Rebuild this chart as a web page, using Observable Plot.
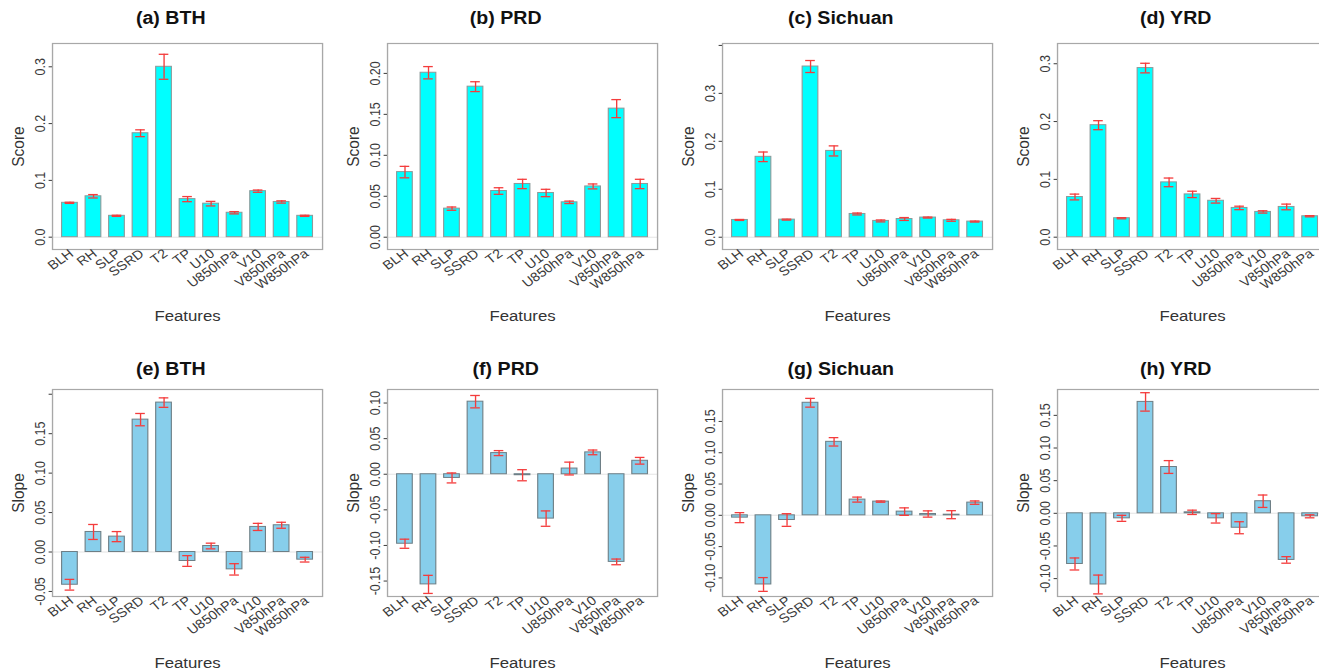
<!DOCTYPE html>
<html><head><meta charset="utf-8">
<script src="https://cdn.jsdelivr.net/npm/d3@7"></script>
<script src="https://cdn.jsdelivr.net/npm/@observablehq/plot@0.6"></script>
<style>
html,body{margin:0;padding:0;background:#fff;overflow:hidden;width:1319px;height:672px;}
#root{position:relative;width:1319px;height:672px;overflow:hidden;}
.panel{position:absolute;transform-origin:0 0;}
</style></head><body><div id="root"></div>
<script>
const features = ["BLH","RH","SLP","SSRD","T2","TP","U10","U850hPa","V10","V850hPa","W850hPa"];

const scoreBTH    = [0.0605,0.072,0.0376,0.183,0.300,0.067,0.059,0.043,0.081,0.062,0.0376];
const scoreBTHErr = [0.001,0.003,0.001,0.006,0.022,0.0045,0.004,0.002,0.002,0.002,0.001];
const scorePRD    = [0.0795,0.2008,0.0349,0.1838,0.0564,0.065,0.054,0.0426,0.062,0.157,0.065];
const scorePRDErr = [0.007,0.0075,0.002,0.006,0.004,0.0057,0.0045,0.0015,0.003,0.011,0.0057];
const scoreSC     = [0.036,0.1677,0.0367,0.356,0.180,0.0485,0.034,0.038,0.041,0.0353,0.0326];
const scoreSCErr  = [0.001,0.01,0.001,0.0125,0.0105,0.002,0.002,0.003,0.001,0.002,0.001];
const scoreYRD    = [0.0695,0.1937,0.0328,0.2925,0.0948,0.074,0.063,0.0506,0.0437,0.0523,0.0362];
const scoreYRDErr = [0.005,0.0078,0.001,0.0083,0.0075,0.0055,0.004,0.003,0.002,0.0049,0.001];

const slopeBTH    = [-0.0415,0.0254,0.0195,0.1678,0.1894,-0.0114,0.0076,-0.022,0.0318,0.0339,-0.0097];
const slopeBTHErr = [0.0068,0.0095,0.0064,0.0078,0.006,0.0068,0.0036,0.0072,0.0045,0.0038,0.003];
const slopePRD    = [-0.0976,-0.1547,-0.0052,0.1019,0.0297,-0.0014,-0.0623,0.008,0.0307,-0.1231,0.0189];
const slopePRDErr = [0.0064,0.0127,0.007,0.0087,0.0035,0.0078,0.0108,0.009,0.0033,0.004,0.0047];
const slopeSC     = [-0.0037,-0.1105,-0.0075,0.1798,0.1174,0.0251,0.0219,0.0059,0.0021,0.001,0.0203];
const slopeSCErr  = [0.008,0.011,0.0101,0.007,0.0067,0.004,0.001,0.006,0.005,0.0064,0.0027];
const slopeYRD    = [-0.0776,-0.109,-0.0077,0.1706,0.0709,0.0015,-0.0077,-0.0221,0.0185,-0.0714,-0.0046];
const slopeYRDErr = [0.0092,0.0144,0.0046,0.0141,0.0098,0.0033,0.0072,0.0092,0.0095,0.005,0.0023];

const ticksScore1 = [0,0.1,0.2,0.3];
const labelsScore1 = ["0.0","0.1","0.2","0.3"];
const ticksScore2 = [0,0.05,0.1,0.15,0.2];
const labelsScore2 = ["0.00","0.05","0.10","0.15","0.20"];
const ticksScore3 = [0,0.1,0.2,0.3,0.4];
const labelsScore3 = ["0.0","0.1","0.2","0.3",""];
const ticksSlopeE = [-0.05,0,0.05,0.1,0.15,0.2];
const labelsSlopeE = ["-0.05","0.00","0.05","0.10","0.15",""];
const ticksSlopeF = [-0.15,-0.1,-0.05,0,0.05,0.1];
const labelsSlopeF = ["-0.15","-0.10","-0.05","0.00","0.05","0.10"];
const ticksSlopeG = [-0.1,-0.05,0,0.05,0.1,0.15];
const labelsSlopeG = ["-0.10","-0.05","0.00","0.05","0.10","0.15"];

const panels = [
  {title:"(a) BTH", v:scoreBTH, e:scoreBTHErr, ylab:"Score", dom:[-0.0217,0.341], ticks:ticksScore1, labels:labelsScore1, fill:"#00FFFF", stroke:"#8c9a9a", row:0, col:0},
  {title:"(b) PRD", v:scorePRD, e:scorePRDErr, ylab:"Score", dom:[-0.015,0.2365], ticks:ticksScore2, labels:labelsScore2, fill:"#00FFFF", stroke:"#8c9a9a", row:0, col:1},
  {title:"(c) Sichuan", v:scoreSC, e:scoreSCErr, ylab:"Score", dom:[-0.0256,0.404], ticks:ticksScore3, labels:labelsScore3, fill:"#00FFFF", stroke:"#8c9a9a", row:0, col:2},
  {title:"(d) YRD", v:scoreYRD, e:scoreYRDErr, ylab:"Score", dom:[-0.0213,0.335], ticks:ticksScore1, labels:labelsScore1, fill:"#00FFFF", stroke:"#8c9a9a", row:0, col:3},
  {title:"(e) BTH", v:slopeBTH, e:slopeBTHErr, ylab:"Slope", dom:[-0.0564,0.206], ticks:ticksSlopeE, labels:labelsSlopeE, fill:"#87CEEB", stroke:"#6e7f86", row:1, col:0},
  {title:"(f) PRD", v:slopePRD, e:slopePRDErr, ylab:"Slope", dom:[-0.1717,0.119], ticks:ticksSlopeF, labels:labelsSlopeF, fill:"#87CEEB", stroke:"#6e7f86", row:1, col:1},
  {title:"(g) Sichuan", v:slopeSC, e:slopeSCErr, ylab:"Slope", dom:[-0.1297,0.201], ticks:ticksSlopeG, labels:labelsSlopeG, fill:"#87CEEB", stroke:"#6e7f86", row:1, col:2},
  {title:"(h) YRD", v:slopeYRD, e:slopeYRDErr, ylab:"Slope", dom:[-0.1274,0.1896], ticks:ticksSlopeG, labels:labelsSlopeG, fill:"#87CEEB", stroke:"#6e7f86", row:1, col:3}
];

const root = document.getElementById("root");
const errColor = "#f43c3c";
const sx = 1.12; // horizontal stretch of the original picture
for (const p of panels) {
  const data = features.map((f, i) => ({f, v: p.v[i], e: p.e[i]}));
  const top = p.row === 0 ? 43 : 53;
  const bottom = p.row === 0 ? 87 : 76;
  const chart = Plot.plot({
    width: 299,
    height: 336,
    marginLeft: 46.4,
    marginRight: 11.5,
    marginTop: top,
    marginBottom: bottom,
    style: {fontFamily: "'Liberation Sans', Arial, Helvetica, sans-serif", fontSize: "12px", color: "#3a3a3a", background: "transparent", overflow: "visible"},
    x: {domain: features, paddingInner: 0.33, paddingOuter: 0.24, axis: null},
    y: {domain: p.dom, label: null},
    marks: [
      Plot.ruleY([0], {stroke: "#e4e4e4", strokeWidth: 1}),
      Plot.barY(data, {x: "f", y: "v", fill: p.fill, stroke: p.stroke, strokeWidth: 1}),
      Plot.ruleX(data, {x: "f", y1: d => d.v - d.e, y2: d => d.v + d.e, stroke: errColor, strokeWidth: 1.2}),
      Plot.tickY(data, {x: "f", y: d => d.v + d.e, stroke: errColor, strokeWidth: 1.3, insetLeft: 2.7, insetRight: 2.7}),
      Plot.tickY(data, {x: "f", y: d => d.v - d.e, stroke: errColor, strokeWidth: 1.3, insetLeft: 2.7, insetRight: 2.7}),
      Plot.frame({stroke: "#a8a8a8", strokeWidth: 1.2}),
      Plot.axisY({ticks: p.ticks, tickSize: 3, tickRotate: -90, tickPadding: 4, tickFormat: d => p.labels[p.ticks.indexOf(d)], fontSize: 12.5, label: null}),
      Plot.text(features, {x: d => d, frameAnchor: "bottom", rotate: -38, textAnchor: "end", lineAnchor: "middle", dx: 1.4, dy: 2.5, fontSize: 12.8, fill: "#3a3a3a"}),
      Plot.text([p.title], {frameAnchor: "top", lineAnchor: "middle", dy: p.row === 0 ? -25.5 : -20, dx: -15, fontSize: 17.5, fontWeight: "bold", fill: "#111"}),
      Plot.text(["Features"], {frameAnchor: "bottom", lineAnchor: "middle", dy: 67, fontSize: 15, fill: "#333"}),
      Plot.text([p.ylab], {frameAnchor: "left", textAnchor: "middle", lineAnchor: "middle", dx: -30.5, rotate: -90, fontSize: 15.5, fill: "#333"})
    ]
  });
  chart.classList.add("panel");
  chart.style.left = (p.col * 335) + "px";
  chart.style.top = (p.row * 336) + "px";
  chart.style.transform = "scaleX(" + sx + ")";
  root.appendChild(chart);
}
</script>
</body></html>
